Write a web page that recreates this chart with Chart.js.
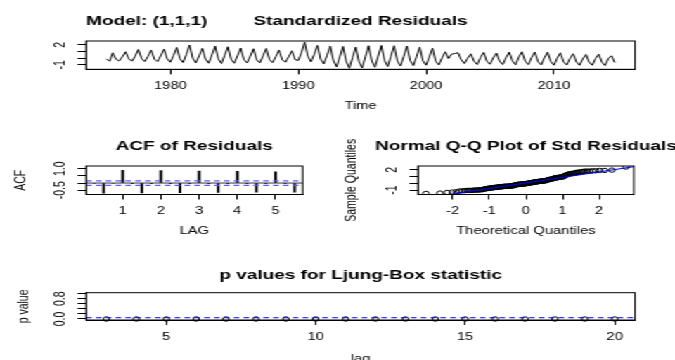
<!DOCTYPE html>
<html>
<head>
<meta charset="utf-8">
<script src="https://cdn.jsdelivr.net/npm/chart.js@4"></script>
<style>
  html, body { margin: 0; padding: 0; background: #fff; }
  /* the reference is an R plot of 480x360 stretched to 675 wide */
  #page { position: absolute; left: 0; top: 0; width: 480px; height: 360px;
          transform: scaleX(1.40625); transform-origin: 0 0; }
  #page canvas { position: absolute; left: 0; top: 0; }
</style>
</head>
<body>
<div id="page">
  <canvas id="resid" width="480" height="360" style="width:480px;height:360px"></canvas>
  <canvas id="acf" width="480" height="360" style="width:480px;height:360px"></canvas>
  <canvas id="qq" width="480" height="360" style="width:480px;height:360px"></canvas>
  <canvas id="lb" width="480" height="360" style="width:480px;height:360px"></canvas>
</div>
<script>
// standardized residuals, quarterly, one row per year (Q1..Q4)
const residYears = [1975, 1976, 1977, 1978, 1979, 1980, 1981, 1982, 1983, 1984,
                    1985, 1986, 1987, 1988, 1989, 1990, 1991, 1992, 1993, 1994,
                    1995, 1996, 1997, 1998, 1999, 2000, 2001, 2002, 2003, 2004,
                    2005, 2006, 2007, 2008, 2009, 2010, 2011, 2012, 2013, 2014];
const residQuarters = [
  [-0.10, -0.45, 0.80, -0.15], [-0.40, 0.20, 0.95, -0.10], [-0.45, 0.30, 1.30, -0.05],
  [-0.50, 0.25, 1.20, -0.15], [-0.50, 0.35, 1.35, -0.10], [-0.60, 0.40, 1.60, -0.10],
  [-0.65, 0.55, 1.95, 0.00], [-0.70, 0.35, 1.45, -0.15], [-0.75, 0.50, 1.80, -0.10],
  [-0.80, 0.45, 1.70, -0.15], [-0.75, 0.35, 1.50, -0.20], [-0.70, 0.30, 1.40, -0.25],
  [-0.70, 0.35, 1.45, -0.20], [-0.65, 0.25, 1.20, -0.25], [-0.60, 0.20, 1.10, -0.20],
  [-0.35, 0.80, 2.40, 0.30], [-0.55, 0.55, 1.90, -0.15], [-0.85, 0.40, 1.80, -0.35],
  [-1.30, 0.20, 1.75, -0.45], [-1.50, 0.10, 1.65, -0.50], [-1.45, 0.20, 1.85, -0.40],
  [-1.35, 0.30, 1.90, -0.35], [-1.25, 0.30, 1.85, -0.40], [-1.15, 0.25, 1.80, -0.35],
  [-1.10, 0.20, 1.65, -0.40], [-1.05, 0.15, 1.50, -0.45], [-1.00, 0.05, 0.95, -0.05],
  [0.60, 0.70, 0.80, -0.25], [-0.80, 0.00, 0.65, -0.45], [-0.95, 0.10, 0.85, -0.45],
  [-0.90, 0.05, 0.75, -0.45], [-0.95, 0.10, 0.90, -0.40], [-1.00, 0.15, 0.95, -0.45],
  [-0.95, 0.10, 0.90, -0.50], [-1.00, 0.05, 0.90, -0.50], [-1.05, 0.00, 0.80, -0.55],
  [-1.00, -0.05, 0.65, -0.55], [-1.05, -0.10, 0.55, -0.60], [-1.05, -0.05, 0.60, -0.60],
  [-1.10, -0.05, 0.35, -0.65]
];
const residTicksX = [1980, 1990, 2000, 2010];
const residTicksY = [-1, 0, 1, 2];
const residLabelsY = ['-1', '', '', '2'];

// ACF of residuals (lag in years)
const acfLags = [0.25, 0.5, 0.75, 1, 1.25, 1.5, 1.75, 2, 2.25, 2.5, 2.75,
                 3, 3.25, 3.5, 3.75, 4, 4.25, 4.5, 4.75, 5, 5.25, 5.5];
const acfValues = [-0.03, -0.70, -0.03, 0.89, -0.04, -0.69, -0.04, 0.87, -0.05, -0.67, -0.05,
                   0.84, -0.05, -0.66, -0.05, 0.82, -0.05, -0.64, -0.05, 0.79, -0.05, -0.63];
const acfBound = 0.158;
const acfTicksX = [1, 2, 3, 4, 5];
const acfTicksY = [-0.5, 0, 0.5, 1];
const acfLabelsY = ['-0.5', '', '', '1.0'];

const qqTicksX = [-2, -1, 0, 1, 2];
const qqTicksY = [-1, 0, 1, 2];
const qqLabelsY = ['-1', '', '', '2'];

// Ljung-Box p values
const lbLags = [3, 4, 5, 6, 7, 8, 9, 10, 11, 12, 13, 14, 15, 16, 17, 18, 19, 20];
const lbPValues = [0, 0, 0, 0, 0, 0, 0, 0, 0, 0, 0, 0, 0, 0, 0, 0, 0, 0];
const lbLevel = 0.05;
const lbTicksX = [5, 10, 15, 20];
const lbTicksY = [0, 0.2, 0.4, 0.6, 0.8, 1];
const lbLabelsY = ['0.0', '', '', '', '0.8', ''];

// ---------------------------------------------------------------
const FAMILY = '"Liberation Sans", Arial, sans-serif';
const tickFont = { family: FAMILY, size: 10.5 };

function rRange(lo, hi) {            // R's 4% axis extension
  const d = (hi - lo) * 0.04;
  return [lo - d, hi + d];
}

// inverse normal cdf (Acklam)
function qnorm(p) {
  const a = [-3.969683028665376e+01, 2.209460984245205e+02, -2.759285104469687e+02,
             1.383577518672690e+02, -3.066479806614716e+01, 2.506628277459239e+00];
  const b = [-5.447609879822406e+01, 1.615858368580409e+02, -1.556989798598866e+02,
             6.680131188771972e+01, -1.328068155288572e+01];
  const c = [-7.784894002430293e-03, -3.223964580411365e-01, -2.400758277161838e+00,
             -2.549732539343734e+00, 4.374664141464968e+00, 2.938163982698783e+00];
  const d = [7.784695709041462e-03, 3.224671290700398e-01, 2.445134137142996e+00,
             3.754408661907416e+00];
  let q, r;
  if (p < 0.02425 || p > 1 - 0.02425) {
    q = Math.sqrt(-2 * Math.log(p < 0.5 ? p : 1 - p));
    const v = (((((c[0]*q + c[1])*q + c[2])*q + c[3])*q + c[4])*q + c[5]) /
              ((((d[0]*q + d[1])*q + d[2])*q + d[3])*q + 1);
    return p < 0.5 ? v : -v;
  }
  q = p - 0.5; r = q * q;
  return (((((a[0]*r + a[1])*r + a[2])*r + a[3])*r + a[4])*r + a[5]) * q /
         (((((b[0]*r + b[1])*r + b[2])*r + b[3])*r + b[4])*r + 1);
}

function quantile7(sorted, p) {
  const h = (sorted.length - 1) * p, lo = Math.floor(h);
  return sorted[lo] + (h - lo) * (sorted[Math.min(lo + 1, sorted.length - 1)] - sorted[lo]);
}

// frame + titles drawn on top of each panel
function frame(texts) {
  return {
    id: 'frame',
    afterDraw(chart) {
      const { ctx, chartArea: a } = chart;
      ctx.save();
      ctx.strokeStyle = '#000';
      ctx.lineWidth = 1;
      ctx.strokeRect(a.left, a.top, a.right - a.left, a.bottom - a.top);
      ctx.fillStyle = '#000';
      texts.forEach(t => {
        ctx.save();
        ctx.font = t.bold ? 'bold 13.5px ' + FAMILY : '10.5px ' + FAMILY;
        ctx.textAlign = t.align || 'center';
        ctx.textBaseline = 'middle';
        ctx.translate(t.x, t.y);
        if (t.rot) ctx.rotate(-Math.PI / 2);
        ctx.fillText(t.text, 0, 0);
        ctx.restore();
      });
      ctx.restore();
    }
  };
}

function panelOptions(box, xr, yr, xt, yt, ylab, yPad) {
  return {
    responsive: false,
    animation: false,
    events: [],
    layout: { padding: { left: box.l - 40, right: 480 - box.r, top: box.t, bottom: 360 - box.b - 30 } },
    plugins: { legend: { display: false }, tooltip: { enabled: false } },
    scales: {
      x: {
        type: 'linear', min: xr[0], max: xr[1], offset: false,
        afterFit: s => { s.height = 30; },
        afterBuildTicks: s => { s.ticks = xt.map(v => ({ value: v })); },
        grid: { drawOnChartArea: false, drawTicks: true, tickLength: 5, color: '#000', offset: false },
        border: { display: true, color: '#000' },
        ticks: { color: '#000', font: tickFont, padding: 5.4, autoSkip: false, maxRotation: 0,
                 callback: v => String(v) }
      },
      y: {
        type: 'linear', min: yr[0], max: yr[1],
        afterFit: s => { s.width = 40; },
        afterBuildTicks: s => { s.ticks = yt.map(v => ({ value: v })); },
        grid: { drawOnChartArea: false, drawTicks: true, tickLength: 6, color: '#000' },
        border: { display: true, color: '#000' },
        ticks: { color: '#000', font: tickFont, padding: yPad, autoSkip: false,
                 minRotation: 90, maxRotation: 90, crossAlign: 'center',
                 callback: (v, i) => ylab[i] }
      }
    }
  };
}

// ---------------- panel 1: standardized residuals ----------------
const residPoints = [];
residYears.forEach((yr, i) => residQuarters[i].forEach((v, q) => residPoints.push({ x: yr + q / 4, y: v })));
const residVals = residPoints.map(p => p.y);
const residYR = rRange(Math.min(...residVals), Math.max(...residVals));
const residXR = rRange(residPoints[0].x, residPoints[residPoints.length - 1].x);

new Chart(document.getElementById('resid'), {
  type: 'line',
  data: { datasets: [{ data: residPoints, borderColor: '#000', borderWidth: 1, pointRadius: 0, tension: 0 }] },
  options: panelOptions({ l: 61.2, r: 451.6, t: 41, b: 69.3 }, residXR, residYR,
                        residTicksX, residTicksY, residLabelsY, 7.3),
  plugins: [frame([
    { text: 'Model: (1,1,1)', x: 61.2, y: 21.3, bold: true, align: 'left' },
    { text: 'Standardized Residuals', x: 256.4, y: 21.3, bold: true },
    { text: 'Time', x: 256.4, y: 106.4 }
  ])]
});

// ---------------- panel 2: ACF ----------------
const acfXR = rRange(acfLags[0], acfLags[acfLags.length - 1]);
new Chart(document.getElementById('acf'), {
  type: 'bar',
  data: {
    datasets: [
      { type: 'line', data: [{ x: acfXR[0], y: acfBound }, { x: acfXR[1], y: acfBound }],
        borderColor: '#5a5aff', borderWidth: 1.3, borderDash: [4, 3], pointRadius: 0 },
      { type: 'line', data: [{ x: acfXR[0], y: -acfBound }, { x: acfXR[1], y: -acfBound }],
        borderColor: '#5a5aff', borderWidth: 1.3, borderDash: [4, 3], pointRadius: 0 },
      { type: 'line', data: [{ x: acfXR[0], y: 0 }, { x: acfXR[1], y: 0 }],
        borderColor: '#000', borderWidth: 0.8, pointRadius: 0 },
      { data: acfLags.map((l, i) => ({ x: l, y: acfValues[i] })),
        backgroundColor: '#000', barThickness: 1.3 }
    ]
  },
  options: panelOptions({ l: 61.2, r: 215.2, t: 166, b: 194.5 }, acfXR, [-0.8, 1.19],
                        acfTicksX, acfTicksY, acfLabelsY, 2.9),
  plugins: [frame([
    { text: 'ACF of Residuals', x: 138.2, y: 146, bold: true },
    { text: 'LAG', x: 138.2, y: 231.5 },
    { text: 'ACF', x: 15.4, y: 180.3, rot: true }
  ])]
});

// ---------------- panel 3: normal Q-Q ----------------
const sortedResid = residVals.slice().sort((a, b) => a - b);
const n = sortedResid.length;
const theo = sortedResid.map((_, i) => qnorm((i + 1 - 0.5) / n));
const qqPoints = sortedResid.map((v, i) => ({ x: theo[i], y: v }));
const q1 = quantile7(sortedResid, 0.25), q3 = quantile7(sortedResid, 0.75);
const slope = (q3 - q1) / (qnorm(0.75) - qnorm(0.25));
const inter = q1 - slope * qnorm(0.25);
const qqXR = rRange(theo[0], theo[n - 1]);

new Chart(document.getElementById('qq'), {
  type: 'scatter',
  data: {
    datasets: [
      { type: 'line', data: [{ x: qqXR[0], y: inter + slope * qqXR[0] }, { x: qqXR[1], y: inter + slope * qqXR[1] }],
        borderColor: '#0000ff', borderWidth: 1, pointRadius: 0 },
      { data: qqPoints, pointRadius: 2.2, pointBackgroundColor: 'rgba(0,0,0,0)',
        pointBorderColor: '#000', pointBorderWidth: 1 }
    ]
  },
  options: panelOptions({ l: 297.2, r: 450.8, t: 166, b: 194.5 }, qqXR, residYR,
                        qqTicksX, qqTicksY, qqLabelsY, 7.3),
  plugins: [frame([
    { text: 'Normal Q-Q Plot of Std Residuals', x: 374, y: 146, bold: true },
    { text: 'Theoretical Quantiles', x: 374, y: 231.5 },
    { text: 'Sample Quantiles', x: 250.1, y: 180.3, rot: true }
  ])]
});

// ---------------- panel 4: Ljung-Box ----------------
const lbXR = rRange(lbLags[0], lbLags[lbLags.length - 1]);
new Chart(document.getElementById('lb'), {
  type: 'scatter',
  data: {
    datasets: [
      { type: 'line', data: [{ x: lbXR[0], y: lbLevel }, { x: lbXR[1], y: lbLevel }],
        borderColor: '#0000ff', borderWidth: 1, borderDash: [4, 3], pointRadius: 0 },
      { data: lbLags.map((l, i) => ({ x: l, y: lbPValues[i] })), clip: false,
        pointRadius: 2.2, pointBackgroundColor: 'rgba(0,0,0,0)',
        pointBorderColor: '#000', pointBorderWidth: 1 }
    ]
  },
  options: panelOptions({ l: 61.2, r: 451.6, t: 292.7, b: 320 }, lbXR, rRange(0, 1),
                        lbTicksX, lbTicksY, lbLabelsY, 4.7),
  plugins: [frame([
    { text: 'p values for Ljung-Box statistic', x: 256.4, y: 275.5, bold: true },
    { text: 'lag', x: 256.4, y: 359 },
    { text: 'p value', x: 17, y: 306.4, rot: true }
  ])]
});
</script>
</body>
</html>
